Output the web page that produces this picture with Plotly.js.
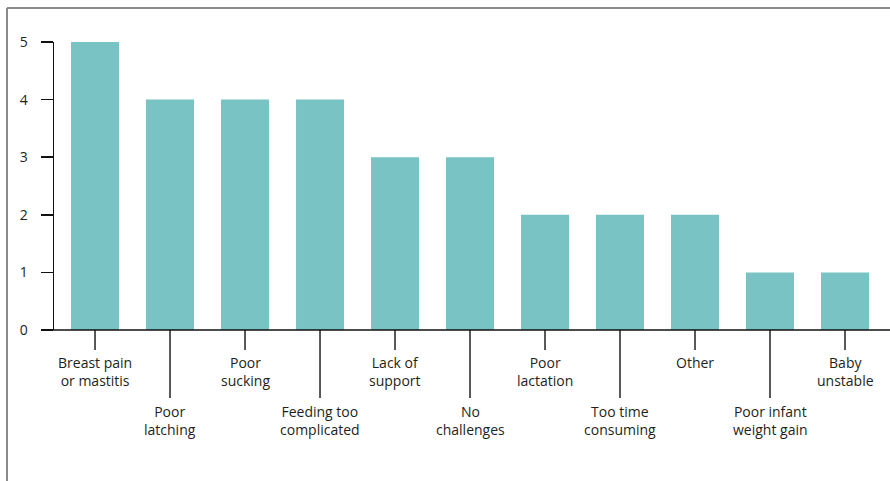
<!DOCTYPE html>
<html>
<head>
<meta charset="utf-8">
<script src="https://cdn.plot.ly/plotly-3.0.1.min.js"></script>
<style>html,body{margin:0;padding:0;background:#fff;}#chart{width:890px;height:481px;}</style>
</head>
<body>
<div id="chart"></div>
<script>
var categories = ["Breast pain<br>or mastitis", "Poor<br>latching", "Poor<br>sucking", "Feeding too<br>complicated", "Lack of<br>support", "No<br>challenges", "Poor<br>lactation", "Too time<br>consuming", "Other", "Poor infant<br>weight gain", "Baby<br>unstable"];
var values = [5, 4, 4, 4, 3, 3, 2, 2, 2, 1, 1];
var yTicks = [0, 1, 2, 3, 4, 5];

var PH = 288, PW = 836;
var idx = categories.map(function(_, i){ return i; });
var shapes = [];
var annotations = [];
idx.forEach(function(i){
  var longTick = (i % 2 === 1);
  shapes.push({type:'line', xref:'x', yref:'paper',
    x0:i, x1:i, y0:0, y1: -(longTick ? 68 : 20)/PH,
    line:{color:'#222', width:1.5}});
  annotations.push({x:i, xref:'x', y:0, yref:'paper', yanchor:'top', xanchor:'center',
    yshift: longTick ? -70 : -21, showarrow:false, text:categories[i],
    font:{family:'Open Sans, sans-serif', size:14, color:'#231f20'}, align:'center'});
});
// frame lines and extended x axis line
shapes.push({type:'line', xref:'paper', yref:'paper', x0:-47/PW, x1:-47/PW, y0:-160/PH, y1:1+34/PH, line:{color:'#8a8a8a', width:2}});
shapes.push({type:'line', xref:'paper', yref:'paper', x0:-47/PW, x1:1.01, y0:1+34/PH, y1:1+34/PH, line:{color:'#8a8a8a', width:2}});
shapes.push({type:'line', xref:'paper', yref:'paper', x0:-12/PW, x1:1.01, y0:0, y1:0, line:{color:'#111', width:1.5}});

var trace = {type:'bar', x:idx, y:values, width:0.64,
  marker:{color:'#79c3c4', line:{width:0}}, hoverinfo:'none'};

var layout = {
  width:890, height:481,
  margin:{l:54, r:0, t:42, b:151},
  paper_bgcolor:'#fff', plot_bgcolor:'#fff',
  showlegend:false,
  xaxis:{range:[-0.547, 10.6], showticklabels:false, ticks:'', showgrid:false, zeroline:false, showline:false, fixedrange:true},
  yaxis:{range:[0,5], tickvals:yTicks, ticktext:yTicks.map(String), ticks:'outside', ticklen:12, tickwidth:1.5, tickcolor:'#111',
    showline:true, linecolor:'#111', linewidth:1.5, showgrid:false, zeroline:false, ticklabelstandoff:10,
    tickfont:{family:'Open Sans, sans-serif', size:14, color:'#231f20'}},
  shapes:shapes,
  annotations:annotations
};
Plotly.newPlot('chart', [trace], layout, {displayModeBar:false, staticPlot:true});
</script>
</body>
</html>
